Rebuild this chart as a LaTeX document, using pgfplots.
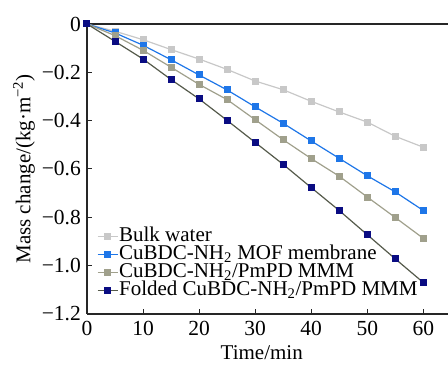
\documentclass[border=0pt]{standalone}
\usepackage{fontspec}
\setmainfont{Liberation Serif}
\usepackage{pgfplots}
\pgfplotsset{compat=1.18}
\definecolor{cbulk}{RGB}{200,200,200}
\definecolor{cblue}{RGB}{30,118,232}
\definecolor{colive}{RGB}{160,160,140}
\definecolor{cnavy}{RGB}{10,12,130}
\definecolor{cnavyline}{RGB}{85,90,75}
\begin{document}
\fontsize{21}{24}\selectfont
\begin{tikzpicture}
\begin{axis}[name=ax, scale only axis, width=361pt, height=290pt,
  xmin=0, xmax=64.4, ymin=-1.2, ymax=0,
  axis x line=box, axis y line=left,
  axis line style={-, line width=1.1pt, black!85},
  tick align=inside, xtick pos=bottom, ytick pos=left,
  major tick length=5pt, tick style={line width=1pt, black!85},
  xtick={0,10,20,30,40,50,60},
  ytick={-1.2,-1.0,-0.8,-0.6,-0.4,-0.2,0},
  yticklabels={−1.2,−1.0,−0.8,−0.6,−0.4,−0.2,0},
  /pgf/number format/assume math mode=true,
  every tick label/.append style={font=\fontsize{21.5}{24}\selectfont},
  yticklabel style={xshift=1pt},
  xlabel={Time/min}, ylabel={Mass change/(kg·m\textsuperscript{−2})},
  every axis x label/.style={at={(axis description cs:0.484,0)}, anchor=base, yshift=-46pt, font=\fontsize{21}{24}\selectfont},
  every axis y label/.style={at={(axis description cs:-0.1745,0.5)}, rotate=90, anchor=center, font=\fontsize{21}{24}\selectfont},
  legend style={at={(axis description cs:0.027,0.049)}, anchor=south west, draw=none, fill=none, inner sep=0pt,
    font=\fontsize{21}{24}\selectfont,
    nodes={inner sep=0pt, inner xsep=1pt, text height=14pt, text depth=4pt}},
  legend cell align=left,
  legend image code/.code={\draw[mark repeat=2,mark phase=2] plot coordinates {(0pt,0pt) (10pt,0pt) (20pt,0pt)};},
  every axis plot/.append style={line width=1.2pt, mark=square*, mark size=2.9pt},
]
\addplot[cbulk, mark options={fill=cbulk, draw=cbulk}] coordinates {
(0,0) (5,-0.030) (10,-0.065) (15,-0.106) (20,-0.145) (25,-0.188) (30,-0.236) (35,-0.272) (40,-0.320) (45,-0.364) (50,-0.406) (55,-0.465) (60,-0.510)};
\addplot[cblue, mark options={fill=cblue, draw=cblue}] coordinates {
(0,0) (5,-0.037) (10,-0.088) (15,-0.148) (20,-0.211) (25,-0.273) (30,-0.343) (35,-0.411) (40,-0.484) (45,-0.556) (50,-0.628) (55,-0.695) (60,-0.772)};
\addplot[colive, mark options={fill=colive, draw=colive}] coordinates {
(0,0) (5,-0.048) (10,-0.109) (15,-0.179) (20,-0.250) (25,-0.313) (30,-0.396) (35,-0.479) (40,-0.557) (45,-0.630) (50,-0.716) (55,-0.801) (60,-0.887)};
\addplot[cnavyline, mark options={fill=cnavy, draw=cnavy}] coordinates {
(0,0) (5,-0.072) (10,-0.145) (15,-0.230) (20,-0.310) (25,-0.399) (30,-0.490) (35,-0.581) (40,-0.677) (45,-0.772) (50,-0.872) (55,-0.972) (60,-1.070)};
\legend{Bulk water, CuBDC-NH\textsubscript{2} MOF membrane, CuBDC-NH\textsubscript{2}/PmPD MMM, Folded CuBDC-NH\textsubscript{2}/PmPD MMM}
\end{axis}
\pgfresetboundingbox
\path[use as bounding box] ([shift={(-87pt,-52pt)}]ax.south west) rectangle ([shift={(0pt,24pt)}]ax.north east);
\end{tikzpicture}
\end{document}
